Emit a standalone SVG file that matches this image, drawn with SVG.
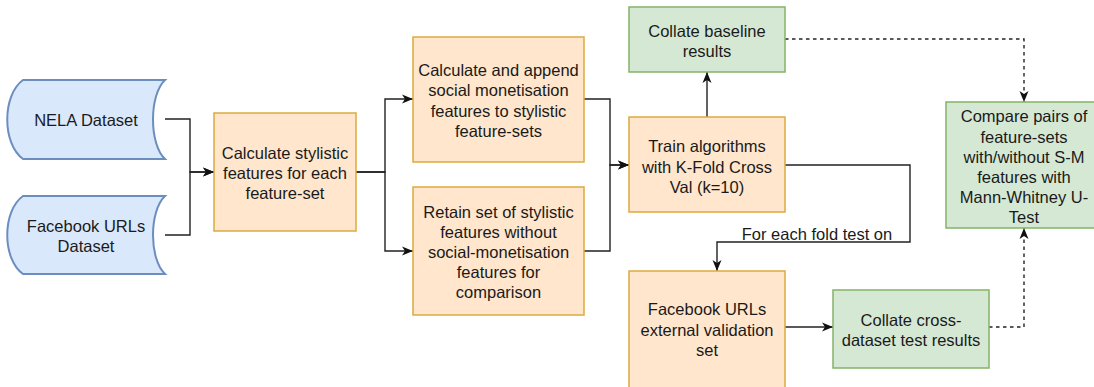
<svg xmlns="http://www.w3.org/2000/svg" width="1094" height="387" viewBox="0 0 1094 387">
<style>
.txt{font-family:"Liberation Sans",Arial,sans-serif;font-size:16.5px;fill:#1a1a1a;text-anchor:middle}
.or{fill:#ffe6cc;stroke:#dcaa3e;stroke-width:1.5}
.gr{fill:#d5e8d4;stroke:#82b366;stroke-width:1.5}
.bl{fill:#dae8fc;stroke:#6c8ebf;stroke-width:2}
.ln{fill:none;stroke:#222;stroke-width:1.4}
.dl{fill:none;stroke:#222;stroke-width:1.4;stroke-dasharray:3.5 3.5}
</style>
<defs>
<marker id="arr" markerUnits="userSpaceOnUse" markerWidth="12" markerHeight="10" refX="11" refY="5" orient="auto">
<path d="M0,0.5 L11,5 L0,9.5 L3,5 Z" fill="#111"/>
</marker>
</defs>
<rect width="1094" height="387" fill="#fff"/>
<g id="connectors">
<path class="ln" d="M165,119 H190 V172 H214" marker-end="url(#arr)"/>
<path class="ln" d="M165,235 H190 V172 H214" marker-end="url(#arr)"/>
<path class="ln" d="M356,172 H385 V99 H413" marker-end="url(#arr)"/>
<path class="ln" d="M356,172 H385 V251 H413" marker-end="url(#arr)"/>
<path class="ln" d="M584,99 H610 V165 H629" marker-end="url(#arr)"/>
<path class="ln" d="M584,251 H610 V165 H629" marker-end="url(#arr)"/>
<path class="ln" d="M707,117 V72" marker-end="url(#arr)"/>
<path class="ln" d="M785,165 H910 V242 H717 V271" marker-end="url(#arr)"/>
<text class="txt" x="817" y="239.5">For each fold test on</text>
<path class="ln" d="M785,327 H833" marker-end="url(#arr)"/>
<path class="dl" d="M785,39 H1024 V102" marker-end="url(#arr)"/>
<path class="dl" d="M989,327 H1024 V228" marker-end="url(#arr)"/>
</g>
<g id="nela">
<path class="bl" d="M23,80 H165 C149,95 149,144 165,159 H23 C2,144 2,95 23,80 Z"/>
<text class="txt" x="86" y="126">NELA Dataset</text>
</g>
<g id="facebook-dataset">
<path class="bl" d="M23,196 H165 C149,211 149,259 165,274 H23 C2,259 2,211 23,196 Z"/>
<text class="txt" x="86" y="232">Facebook URLs</text>
<text class="txt" x="86" y="252">Dataset</text>
</g>
<g id="calc-stylistic">
<rect class="or" x="214" y="113" width="142" height="118"/>
<text class="txt" x="285" y="158.5">Calculate stylistic</text>
<text class="txt" x="285" y="178.5">features for each</text>
<text class="txt" x="285" y="198.5">feature-set</text>
</g>
<g id="calc-append">
<rect class="or" x="413" y="37" width="171" height="125"/>
<text class="txt" x="498.5" y="75.5">Calculate and append</text>
<text class="txt" x="498.5" y="96">social monetisation</text>
<text class="txt" x="498.5" y="116.5">features to stylistic</text>
<text class="txt" x="498.5" y="137">feature-sets</text>
</g>
<g id="retain">
<rect class="or" x="413" y="187" width="171" height="128"/>
<text class="txt" x="498.5" y="218">Retain set of stylistic</text>
<text class="txt" x="498.5" y="238">features without</text>
<text class="txt" x="498.5" y="258">social-monetisation</text>
<text class="txt" x="498.5" y="278">features for</text>
<text class="txt" x="498.5" y="298">comparison</text>
</g>
<g id="train">
<rect class="or" x="629" y="117" width="156" height="95"/>
<text class="txt" x="707" y="152">Train algorithms</text>
<text class="txt" x="707" y="172.5">with K-Fold Cross</text>
<text class="txt" x="707" y="192.5">Val (k=10)</text>
</g>
<g id="collate-baseline">
<rect class="gr" x="629" y="7" width="156" height="65"/>
<text class="txt" x="707" y="37">Collate baseline</text>
<text class="txt" x="707" y="57">results</text>
</g>
<g id="facebook-external">
<rect class="or" x="629" y="271" width="156" height="120"/>
<text class="txt" x="707" y="315">Facebook URLs</text>
<text class="txt" x="707" y="336">external validation</text>
<text class="txt" x="707" y="355.5">set</text>
</g>
<g id="collate-cross">
<rect class="gr" x="833" y="290" width="156" height="78"/>
<text class="txt" x="911" y="326">Collate cross-</text>
<text class="txt" x="911" y="346">dataset test results</text>
</g>
<g id="compare">
<rect class="gr" x="946" y="102" width="156" height="126"/>
<text class="txt" x="1024" y="122">Compare pairs of</text>
<text class="txt" x="1024" y="142.5">feature-sets</text>
<text class="txt" x="1024" y="163">with/without S-M</text>
<text class="txt" x="1024" y="183">features with</text>
<text class="txt" x="1024" y="203">Mann-Whitney U-</text>
<text class="txt" x="1024" y="223">Test</text>
</g>
</svg>
